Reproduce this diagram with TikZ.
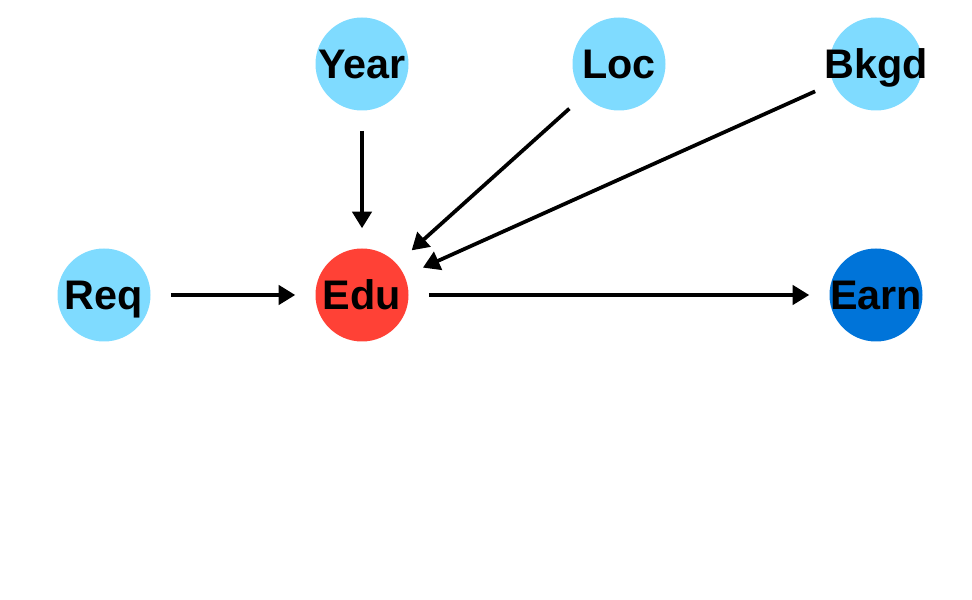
\documentclass[tikz,border=0pt]{standalone}
\usepackage{fontspec}
\setmainfont{Liberation Sans}
\usepackage{tikz}
\usepackage{xcolor}
\usetikzlibrary{arrows.meta}
\definecolor{aqua}{HTML}{7FDBFF}
\definecolor{edured}{HTML}{FF4136}
\definecolor{earnblue}{HTML}{0074D9}
\newcommand{\dagtext}[1]{\makebox[0pt]{#1}}
\tikzset{
    dag-node/.style = {circle, fill=aqua, inner sep=0pt, minimum size=69.75pt, text height=22pt, text depth=0pt, font=\fontsize{31}{31}\selectfont\bfseries},
    dag-edge/.style = {-{Triangle[length=12.5pt,width=14.5pt]}, line width=2.8pt, shorten <=15pt, shorten >=15pt},
}

\begin{document}
\begin{tikzpicture}[x=0.75pt, y=0.75pt]
\useasboundingbox (0,0) rectangle (972,600);
\node[dag-node] (year) at (362,536) {\dagtext{Year}};
\node[dag-node] (loc) at (619,536) {\dagtext{Loc}};
\node[dag-node] (bkgd) at (876,536) {\dagtext{Bkgd}};
\node[dag-node] (req) at (104,305) {\dagtext{Req}};
\node[dag-node, fill=edured] (edu) at (362,305) {\dagtext{Edu}};
\node[dag-node, fill=earnblue] (earn) at (876,305) {\dagtext{Earn}};
\foreach \src in {year, loc, bkgd, req}
    \draw[dag-edge] (\src) -- (edu);
\draw[dag-edge] (edu) -- (earn);
\end{tikzpicture}
\end{document}
